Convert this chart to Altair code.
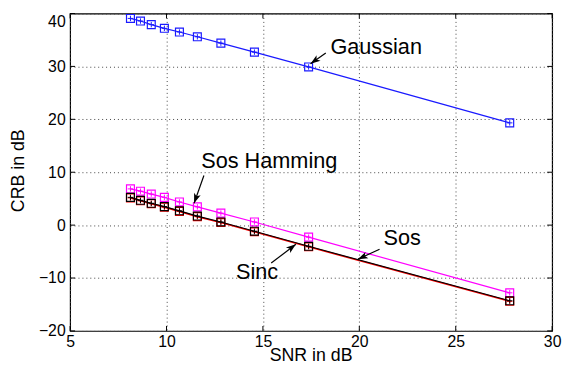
import math
import altair as alt
import pandas as pd

# ---- data ----
snr = [8.13, 8.65, 9.21, 9.89, 10.67, 11.6, 12.82, 14.56, 17.37, 27.8]
gaussian = [39.07, 38.58, 37.9, 37.2, 36.5, 35.6, 34.4, 32.7, 29.9, 19.33]
sos_hamming = [6.85, 6.42, 5.87, 5.25, 4.38, 3.45, 2.27, 0.6, -2.27, -12.8]
sos = [5.15, 4.6, 4.05, 3.4, 2.6, 1.6, 0.5, -1.25, -4.1, -14.4]
sinc = [5.25, 4.69, 4.13, 3.5, 2.7, 1.71, 0.6, -1.15, -4.0, -14.3]

series_names = ["Gaussian", "Sos Hamming", "Sos", "Sinc"]
series_colors = ["#1a1aff", "#ff00ff", "#ff0000", "#000000"]

x_ticks = [5, 10, 15, 20, 25, 30]
y_ticks = [-20, -10, 0, 10, 20, 30, 40]

# annotations: label, text x, text y, arrow start x, y, arrow end x, y
ann_labels = ["Gaussian", "Sos Hamming", "Sinc", "Sos"]
ann_tx = [18.5, 11.8, 13.6, 21.25]
ann_ty = [32.37, 10.89, -10.15, -3.82]
arr_x1 = [18.26, 11.94, 15.43, 21.05]
arr_y1 = [32.55, 9.39, -7.17, -4.56]
arr_x2 = [17.47, 11.43, 16.71, 19.93]
arr_y2 = [30.5, 4.13, -3.63, -6.43]

W, H = 489, 322
XMIN, XMAX, YMIN, YMAX = 5, 30, -20, 40

rows = []
for name, vals in zip(series_names, [gaussian, sos_hamming, sos, sinc]):
    for i, (x, y) in enumerate(zip(snr, vals)):
        rows.append({"series": name, "snr": x, "crb": y, "i": i})
df = pd.DataFrame(rows)

xs = alt.Scale(domain=[XMIN, XMAX], nice=False, zero=False)
ys = alt.Scale(domain=[YMIN, YMAX], nice=False, zero=False)
cs = alt.Scale(domain=series_names, range=series_colors)

font = "Liberation Sans"

base = alt.Chart(df).encode(
    x=alt.X("snr:Q", scale=xs,
            axis=alt.Axis(values=x_ticks, title="SNR in dB", grid=True, ticks=False,
                          tickSize=0, labelPadding=3, labelFontSize=16, labelFont=font,
                          labelColor="black", titleFont=font, titleFontSize=18,
                          titleFontWeight="normal", titleColor="black",
                          titleX=244, titleY=30, titleBaseline="alphabetic",
                          domain=False, gridDash=[1, 3], gridColor="#444",
                          labelFlush=False)),
    y=alt.Y("crb:Q", scale=ys,
            axis=alt.Axis(values=y_ticks, title="CRB in dB", grid=True, ticks=False,
                          tickSize=0, labelPadding=5, labelFontSize=16, labelFont=font,
                          labelColor="black", titleFont=font, titleFontSize=18,
                          titleFontWeight="normal", titleColor="black",
                          titleX=-52, titleY=159, titleBaseline="middle",
                          labelBaseline={"condition": {"test": "datum.value == 40", "value": "top"},
                                         "value": "middle"},
                          domain=False, gridDash=[1, 3], gridColor="#444",
                          labelFlush=False)),
    color=alt.Color("series:N", scale=cs, legend=None),
    order=alt.Order("i:Q"),
)

layers = []
for name in series_names:
    sub = base.transform_filter(alt.datum.series == name)
    layers.append(sub.mark_line(strokeWidth=1.2 if name != "Sos" else 1.6))
    layers.append(sub.mark_point(shape="square", filled=False, size=64, strokeWidth=1.2, opacity=1))
    layers.append(sub.mark_point(shape="M-1,0L1,0M0,-1L0,1", filled=False, size=30,
                                 strokeWidth=1, opacity=1))

# inward ticks on all four sides
xt = pd.DataFrame({"v": x_ticks})
yt = pd.DataFrame({"v": y_ticks})
tick_len = 5
ticks = [
    alt.Chart(xt).mark_rule(color="black", strokeWidth=1).encode(
        x=alt.X("v:Q", scale=xs), y=alt.value(H), y2=alt.value(H - tick_len)),
    alt.Chart(xt).mark_rule(color="black", strokeWidth=1).encode(
        x=alt.X("v:Q", scale=xs), y=alt.value(0), y2=alt.value(tick_len)),
    alt.Chart(yt).mark_rule(color="black", strokeWidth=1).encode(
        y=alt.Y("v:Q", scale=ys), x=alt.value(0), x2=alt.value(tick_len)),
    alt.Chart(yt).mark_rule(color="black", strokeWidth=1).encode(
        y=alt.Y("v:Q", scale=ys), x=alt.value(W), x2=alt.value(W - tick_len)),
]

# annotations
pxx = W / (XMAX - XMIN)
pxy = H / (YMAX - YMIN)
angles = []
for a, b, c, d in zip(arr_x1, arr_y1, arr_x2, arr_y2):
    dx = (c - a) * pxx
    dy = -(d - b) * pxy
    angles.append(math.degrees(math.atan2(dx, -dy)) % 360)

ann = pd.DataFrame({"label": ann_labels, "tx": ann_tx, "ty": ann_ty,
                    "x1": arr_x1, "y1": arr_y1, "x2": arr_x2, "y2": arr_y2,
                    "ang": angles})

texts = alt.Chart(ann).mark_text(align="left", baseline="alphabetic", font=font,
                                 fontSize=22, color="black").encode(
    x=alt.X("tx:Q", scale=xs), y=alt.Y("ty:Q", scale=ys), text="label:N")
arrows = alt.Chart(ann).mark_rule(color="black", strokeWidth=1.2).encode(
    x=alt.X("x1:Q", scale=xs), y=alt.Y("y1:Q", scale=ys),
    x2="x2:Q", y2="y2:Q")
heads = alt.Chart(ann).mark_point(shape="M0,0L-0.7,2L0,1.5L0.7,2Z", filled=True,
                                  size=100, color="black", opacity=1,
                                  strokeWidth=0).encode(
    x=alt.X("x2:Q", scale=xs), y=alt.Y("y2:Q", scale=ys), angle=alt.Angle("ang:Q", scale=None))

chart = alt.layer(*layers, *ticks, arrows, heads, texts).properties(
    width=W, height=H,
    padding={"left": 63, "top": 3, "right": 10, "bottom": 34},
    autosize=alt.AutoSizeParams(type="none"),
    background="white",
).configure_view(stroke="black", strokeWidth=1.2).configure_axis(labelFlush=False)

chart.save("out.html", embed_options={"renderer": "svg", "actions": False})
